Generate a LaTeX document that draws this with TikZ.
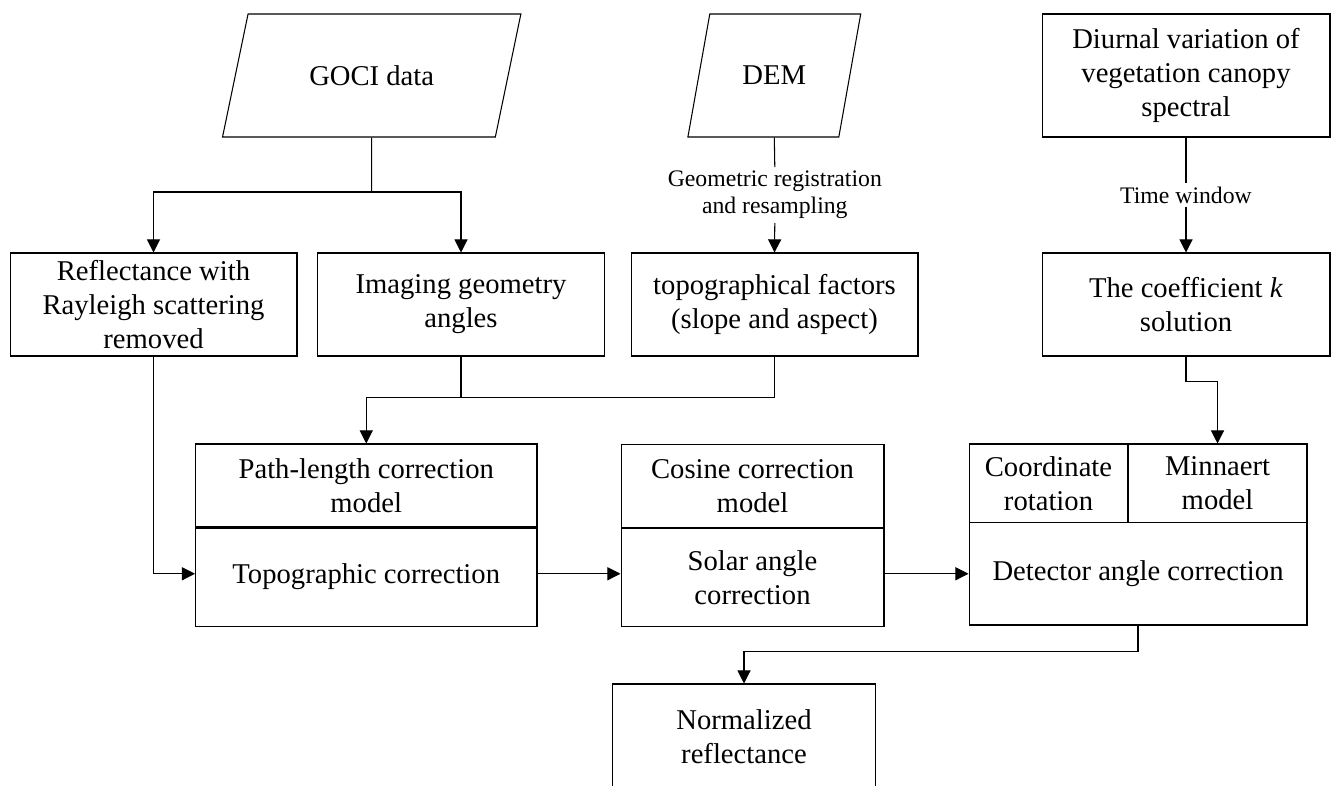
\documentclass[tikz,border=0pt]{standalone}
\usepackage{fontspec}
\setmainfont{Liberation Serif}
\usetikzlibrary{arrows.meta}
\usetikzlibrary{positioning,shapes.geometric}
\newcommand{\mainsz}{\fontsize{16.3pt}{19.3pt}\selectfont}
\newcommand{\smallsz}{\fontsize{13.5pt}{15.5pt}\selectfont}
\tikzset{
	box/.style={rectangle, draw, line width=0.6pt, align=center, font=\mainsz, inner sep=2pt},
	datanode/.style={trapezium, draw, line width=0.6pt, align=center, font=\mainsz, trapezium stretches=true, inner sep=2pt},
	lbl/.style={align=center, font=\smallsz, inner sep=2pt},
	link/.style={line width=0.6pt}
}

\begin{document}
\begin{tikzpicture}[x=0.02cm, y=-0.02cm, >={Triangle[length=7.5pt,width=7.5pt]}]
		\useasboundingbox (0,0) rectangle (1331,785);
		% inputs
		\node[datanode, trapezium left angle=63.4, trapezium right angle=116.6, minimum width=5.99cm, minimum height=2.46cm] at (371.7,75.5) (goci) {GOCI data};
		\node[datanode, trapezium left angle=65.1, trapezium right angle=114.9, minimum width=3.47cm, minimum height=2.46cm] at (774.3,75.5) (dem) {DEM};
		\node[box, minimum width=5.76cm, minimum height=2.46cm] at (1186,75.5) (diur) {Diurnal variation of\\vegetation canopy\\spectral};
		\node[lbl] at (774.8,195) (reg) {Geometric registration\\and resampling};
		\node[lbl] at (1186,195) (tw) {Time window};
		\coordinate (gsplit) at (371.7,192);
		
		% second row
		\node[box, minimum width=5.74cm, minimum height=2.06cm] at (153.5,304.5) (refl) {Reflectance with\\Rayleigh scattering\\removed};
		\node[box, minimum width=5.75cm, minimum height=2.06cm] at (461,304.5) (imag) {Imaging geometry\\angles};
		\node[box, minimum width=5.74cm, minimum height=2.06cm] at (774.5,304.5) (topo) {topographical factors\\(slope and aspect)};
		\node[box, minimum width=5.76cm, minimum height=2.06cm] at (1186,304.5) (coef) {The coefficient \textit{k}\\solution};
		\coordinate (jn) at (461,397.7);
		
		% correction steps
		\node[box, minimum width=6.83cm, minimum height=1.66cm] at (366.25,485.5) (plt) {Path-length correction\\model};
		\node[box, minimum width=6.83cm, minimum height=1.96cm, below=0pt of plt] (topc) {Topographic correction};
		\node[box, minimum width=5.26cm, minimum height=1.67cm] at (752.5,485.8) (cosm) {Cosine correction\\model};
		\node[box, minimum width=5.26cm, minimum height=1.95cm, below=0pt of cosm] (solar) {Solar angle\\correction};
		\node[box, minimum width=3.18cm, minimum height=1.57cm] at (1048.5,483.25) (crot) {Coordinate\\rotation};
		\node[box, minimum width=3.58cm, minimum height=1.57cm] at (1217.5,483.25) (minn) {Minnaert\\model};
		\node[box, minimum width=6.76cm, minimum height=2.05cm] at (1138,573.75) (detc) {Detector angle correction};
		\node[box, minimum width=5.27cm, minimum height=2.1cm] at (744,736.5) (norm) {Normalized\\reflectance};
		
		%Lines
		\draw[link] (goci.south) -- (gsplit);
		\draw[->, link] (gsplit) -| (refl.north);
		\draw[->, link] (gsplit) -| (imag.north);
		\draw[link] (dem.south) -- (reg.north);
		\draw[->, link] (reg.south) -- (topo.north);
		\draw[link] (diur.south) -- (tw.north);
		\draw[->, link] (tw.south) -- (coef.north);
		\draw[link] (imag.south) -- (jn);
		\draw[->, link] (topo.south) |- (jn) -| (plt.north);
		\draw[->, link] (coef.south) -- ++(0,25) -| (minn.north);
		\draw[->, link] (refl.south) |- (detc.west -| topc.west);
		\draw[->, link] (detc.west -| topc.east) -- (detc.west -| solar.west);
		\draw[->, link] (detc.west -| solar.east) -- (detc.west);
		\draw[->, link] (detc.south) -- ++(0,26) -| (norm.north);
	\end{tikzpicture}
\end{document}
